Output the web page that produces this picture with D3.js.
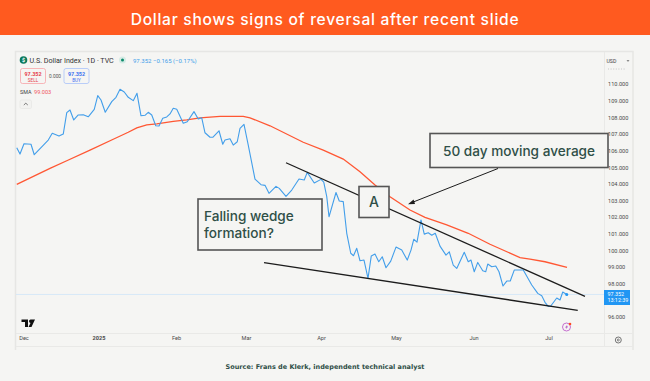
<!DOCTYPE html>
<html>
<head>
<meta charset="utf-8">
<script src="https://cdn.jsdelivr.net/npm/d3@7"></script>
<style>
  html, body { margin: 0; padding: 0; background: #f5f5f3; }
  svg { display: block; }
  .tick-text text, .axis text { font-family: Roboto, sans-serif; }
</style>
</head>
<body>
<div id="chart"></div>
<script>
// days are counted from 1 Jan 2025
var price_days = [-32.7,-31.4,-29.8,-27,-25.7,-20.1,-18.5,-15.8,-14.1,-12.7,-11.4,-9.9,-8.1,-6.1,-4.1,-1.7,-0.3,1,2.7,5.3,7,8.6,10.3,11.9,13.9,15.4,17,18.6,19.9,21.3,22.9,24.2,25.7,27.3,28.6,29.9,31.3,33.9,35.5,38.2,39.9,41.3,42.6,44.6,45.7,48.2,49.7,50.6,52.6,53.9,55.5,56.6,58.2,59.9,62.6,65,66.6,68.2,71,72.3,75,77.3,80.2,82.3,83.5,86.3,89,90.1,91.3,92.2,95,96.3,97.9,99.3,100.9,102,103.3,104.6,106.2,107.8,109.1,110.6,112.1,113.5,115,116.9,119,121.3,123.5,125,126.1,127.4,129,130.3,131.9,133.3,134.7,136.6,139,140.3,141.9,143.3,146.3,147.9,149,150.3,151.7,153.7,154.9,155.7,157.3,158.9,160.2,161.8,163.3,164.7,166.3,169.9,173.3,175.7,177.3,178.6,179.9,180.9,183.3,184.6,185.7,187.3];
var price_values = [106.17,105.79,106.41,106.38,105.75,106.63,107.04,106.87,106.99,108.28,108.44,107.84,108.14,108.15,108.03,108.48,109.30,109.04,108.30,108.94,109.20,109.68,109.52,109.20,109.00,109.44,108.09,108.12,108.30,108.14,107.49,107.48,107.94,108.02,108.20,108.54,108.48,107.64,107.73,108.34,107.90,107.97,107.07,106.80,106.80,107.19,106.38,106.63,106.71,106.33,106.53,107.34,107.58,106.33,104.29,103.95,103.91,103.43,103.85,103.73,103.25,103.63,104.29,104.23,104.69,104.05,104.27,104.11,103.23,102.02,103.48,102.97,102.93,101.03,99.83,99.68,100.13,99.38,99.42,98.32,99.66,99.78,99.32,99.62,98.96,99.36,100.20,100.02,99.42,100.02,100.67,100.50,101.83,100.98,101.06,100.91,101.03,100.26,99.72,99.92,99.12,98.92,99.89,99.32,99.42,98.72,99.28,98.78,98.72,99.18,99.02,99.06,98.72,97.86,98.16,98.16,98.82,98.82,97.92,97.42,97.28,96.88,96.64,96.66,97.14,97.02,97.50,97.352];
var sma_days = [-32.7,-19.4,-12.7,-3.4,5.9,11.9,15.3,19.3,23.3,29.9,35.3,40.6,48.6,57.9,60.6,68.6,81.9,89.9,97.9,104.6,110.6,116.6,124.6,130.6,139.3,147.9,156.6,168.6,172.6,178.6,187.4];
var sma_values = [103.97,104.93,105.39,106.03,106.68,107.10,107.36,107.54,107.60,107.76,107.84,107.96,108.06,108.06,107.97,107.49,106.50,106.03,105.49,104.73,103.93,103.23,102.43,101.99,101.53,101.03,100.37,99.57,99.48,99.32,98.98];
var wedge_upper = [[75, 105.27], [194.6, 97.24]];
var wedge_lower = [[66.2, 99.27], [191.7, 96.40]];
var month_days = [-30, 0, 31, 59, 89, 119, 150, 180];
var month_labels = ['Dec', '2025', 'Feb', 'Mar', 'Apr', 'May', 'Jun', 'Jul'];
var price_ticks = [96, 98, 99, 100, 101, 102, 103, 104, 105, 106, 107, 108, 109, 110];
var last_price = 97.352;

var width = 650, height = 381;
var bg = '#f5f5f3', frame = '#e6e6e4', ink = '#2f4f47', tv_text = '#4a4a4a';
var blue = '#429eea', red = '#ff5733';
var head_font = 'Inter, sans-serif', tv_font = 'Roboto, sans-serif';

var svg = d3.select('#chart').append('svg').attr('width', width).attr('height', height);
svg.append('rect').attr('width', width).attr('height', height).attr('fill', bg);

// title band
svg.append('rect').attr('width', width).attr('height', 35).attr('fill', '#ff5a1f');
svg.append('text').attr('x', 325).attr('y', 25).attr('text-anchor', 'middle')
  .attr('font-family', head_font).attr('font-size', 15.6).attr('font-weight', 500)
  .attr('letter-spacing', 0.73).attr('fill', '#fff')
  .text('Dollar shows signs of reversal after recent slide');

// tradingview panel frame
svg.append('path').attr('fill', 'none').attr('stroke', frame).attr('stroke-width', 1.5)
  .attr('d', 'M15.5,350V51.5H633V350');
svg.append('path').attr('fill', 'none').attr('stroke', '#e9e9e7')
  .attr('d', 'M16,333.5H633M16,346.5H633M604.5,52V346');

var x_scale = d3.scaleLinear().domain([0, 181]).range([98.5, 551]);
var y_scale = d3.scaleLinear().domain([96, 110]).range([317, 84]);

var x_axis = d3.axisBottom(x_scale).tickValues(month_days).tickSize(0)
  .tickFormat(function(d, i){ return month_labels[i]; });
var x_axis_g = svg.append('g').attr('class', 'axis').attr('transform', 'translate(0,334)').call(x_axis);
x_axis_g.select('.domain').remove();
x_axis_g.selectAll('text').attr('font-size', 5.6).attr('fill', tv_text).attr('dy', '0.55em')
  .attr('font-weight', function(d){ return d === 0 ? 700 : 400; });

var y_axis = d3.axisRight(y_scale).tickValues(price_ticks).tickSize(0).tickFormat(d3.format('.3f'));
var y_axis_g = svg.append('g').attr('class', 'axis').attr('transform', 'translate(605,0)').call(y_axis);
y_axis_g.select('.domain').remove();
y_axis_g.selectAll('text').attr('font-size', 5.6).attr('fill', tv_text).attr('x', 3);

// last price line and label
svg.append('line').attr('x1', 16).attr('x2', 604)
  .attr('y1', y_scale(last_price)).attr('y2', y_scale(last_price))
  .attr('stroke', '#cfe6f8').attr('stroke-width', 0.8);

var line = d3.line().x(function(d){ return x_scale(d[0]); }).y(function(d){ return y_scale(d[1]); });

svg.append('path').datum(d3.zip(sma_days, sma_values)).attr('d', line)
  .attr('fill', 'none').attr('stroke', red).attr('stroke-width', 1.3);
svg.append('path').datum(d3.zip(price_days, price_values)).attr('d', line)
  .attr('fill', 'none').attr('stroke', blue).attr('stroke-width', 1.1).attr('stroke-linejoin', 'round');
svg.append('circle').attr('cx', x_scale(price_days[price_days.length - 1])).attr('cy', y_scale(last_price))
  .attr('r', 1.5).attr('fill', '#2196f3');

[wedge_upper, wedge_lower].forEach(function(d){
  svg.append('path').datum(d).attr('d', line).attr('fill', 'none')
    .attr('stroke', '#1c1c1c').attr('stroke-width', 1.3);
});

svg.append('rect').attr('x', 604).attr('y', y_scale(last_price) - 4.5).attr('width', 26).attr('height', 15)
  .attr('fill', '#2196f3');
svg.append('text').attr('x', 607.5).attr('y', y_scale(last_price) + 1.6).attr('font-family', tv_font)
  .attr('font-size', 5.4).attr('fill', '#fff').text(d3.format('.3f')(last_price));
svg.append('text').attr('x', 607.5).attr('y', y_scale(last_price) + 8).attr('font-family', tv_font)
  .attr('font-size', 5.4).attr('fill', '#fff').text('13:12:39');

// tradingview header
function tv_label(x, y, str, size, color, weight, anchor){
  return svg.append('text').attr('x', x).attr('y', y).attr('font-family', tv_font).attr('font-size', size)
    .attr('fill', color).attr('font-weight', weight || 400).attr('text-anchor', anchor || 'start').text(str);
}
svg.append('circle').attr('cx', 23.5).attr('cy', 60).attr('r', 3.8).attr('fill', '#0b7a5e');
tv_label(23.5, 62, '$', 5.4, '#fff', 700, 'middle');
tv_label(29.5, 63, 'U.S. Dollar Index · 1D · TVC', 7.1, '#333');
svg.append('circle').attr('cx', 122.5).attr('cy', 60).attr('r', 3.5).attr('fill', '#d5ebe5');
svg.append('circle').attr('cx', 122.5).attr('cy', 60).attr('r', 1.5).attr('fill', '#0b8a6a');
tv_label(133, 62.5, '97.352', 6, blue);
tv_label(153, 62.5, '−0.165 (−0.17%)', 6, blue);

svg.append('rect').attr('x', 20.5).attr('y', 68.5).attr('width', 25).attr('height', 15).attr('rx', 2)
  .attr('fill', bg).attr('stroke', '#f7a5a8').attr('stroke-width', 0.8);
tv_label(33, 75.5, '97.352', 5.4, '#e5404c', 700, 'middle');
tv_label(33, 82, 'SELL', 4.6, '#e5404c', 400, 'middle');
tv_label(55, 77.5, '0.000', 4.8, '#555', 400, 'middle');
svg.append('rect').attr('x', 64).attr('y', 68.5).attr('width', 25).attr('height', 15).attr('rx', 2)
  .attr('fill', bg).attr('stroke', '#a9c3f9').attr('stroke-width', 0.8);
tv_label(76.5, 75.5, '97.352', 5.4, '#3a6ff0', 700, 'middle');
tv_label(76.5, 82, 'BUY', 4.6, '#3a6ff0', 400, 'middle');
tv_label(20, 93.5, 'SMA', 5.4, '#444');
tv_label(34, 93.5, '99.003', 5.6, '#f0555f');

svg.append('rect').attr('x', 20).attr('y', 100).attr('width', 11.5).attr('height', 8.5).attr('rx', 1.5)
  .attr('fill', '#f2f2f0').attr('stroke', '#e4e4e2').attr('stroke-width', 0.6);
svg.append('path').attr('d', 'M23.8,105L25.8,103.2L27.8,105').attr('fill', 'none').attr('stroke', '#444').attr('stroke-width', 0.7);

tv_label(606.5, 62.5, 'USD', 5.2, '#444');
svg.append('path').attr('d', 'M626.5,60.3h3l-1.5,1.4z').attr('fill', '#666');
svg.append('line').attr('x1', 608).attr('x2', 626).attr('y1', 69).attr('y2', 69)
  .attr('stroke', '#bbb').attr('stroke-width', 0.8).attr('stroke-dasharray', '1 1.6');

// tradingview logo
svg.append('path').attr('fill', '#111')
  .attr('d', 'M21.5,319.5H28V327H25V322H21.5ZM31,319.5H35L31.5,327H28.5L30.5,323A1.7,1.7 0 0 1 31,319.5Z');

// settings icon and event marker
svg.append('circle').attr('cx', 618.3).attr('cy', 340).attr('r', 3).attr('fill', 'none').attr('stroke', '#555').attr('stroke-width', 0.8);
svg.append('circle').attr('cx', 618.3).attr('cy', 340).attr('r', 1).attr('fill', 'none').attr('stroke', '#555').attr('stroke-width', 0.7);
svg.append('circle').attr('cx', 566.5).attr('cy', 327).attr('r', 4).attr('fill', bg).attr('stroke', '#c060cc').attr('stroke-width', 0.9);
svg.append('path').attr('d', 'M567.6,324.5L565,327.6H566.6L565.6,329.6L568.2,326.5H566.6Z').attr('fill', '#b050c0');
svg.append('circle').attr('cx', 570).attr('cy', 324).attr('r', 1.3).attr('fill', '#ff4a22');

// annotation boxes
function note(x, y, w, h){
  svg.append('rect').attr('x', x).attr('y', y).attr('width', w).attr('height', h)
    .attr('fill', bg).attr('stroke', '#555').attr('stroke-width', 1.6);
}
function note_text(x, y, lines, size, anchor){
  var t = svg.append('text').attr('font-family', head_font).attr('font-size', size)
    .attr('font-weight', 500).attr('fill', ink).attr('text-anchor', anchor || 'start');
  lines.forEach(function(str, i){
    t.append('tspan').attr('x', x).attr('y', y + i * 17.5).text(str);
  });
}
note(359, 186.5, 30, 31);
note_text(374, 206.5, ['A'], 14, 'middle');
note(198, 199, 124, 51);
note_text(204, 220.5, ['Falling wedge', 'formation?'], 13.6);
note(430, 133.5, 178, 34);
note_text(443, 156, ['50 day moving average'], 13.6);

// arrow pointing at the moving average
svg.append('line').attr('x1', 498).attr('y1', 168.5).attr('x2', 412).attr('y2', 202.5)
  .attr('stroke', '#1c1c1c').attr('stroke-width', 1);
svg.append('path').attr('d', 'M408,204.2L413.6,199.6L415,204Z').attr('fill', '#1c1c1c');

// source line
svg.append('text').attr('x', 325).attr('y', 369).attr('text-anchor', 'middle')
  .attr('font-family', '"DejaVu Sans", sans-serif').attr('font-size', 6.5).attr('font-weight', 700)
  .attr('fill', ink).text('Source: Frans de Klerk, independent technical analyst');
</script>
</body>
</html>
